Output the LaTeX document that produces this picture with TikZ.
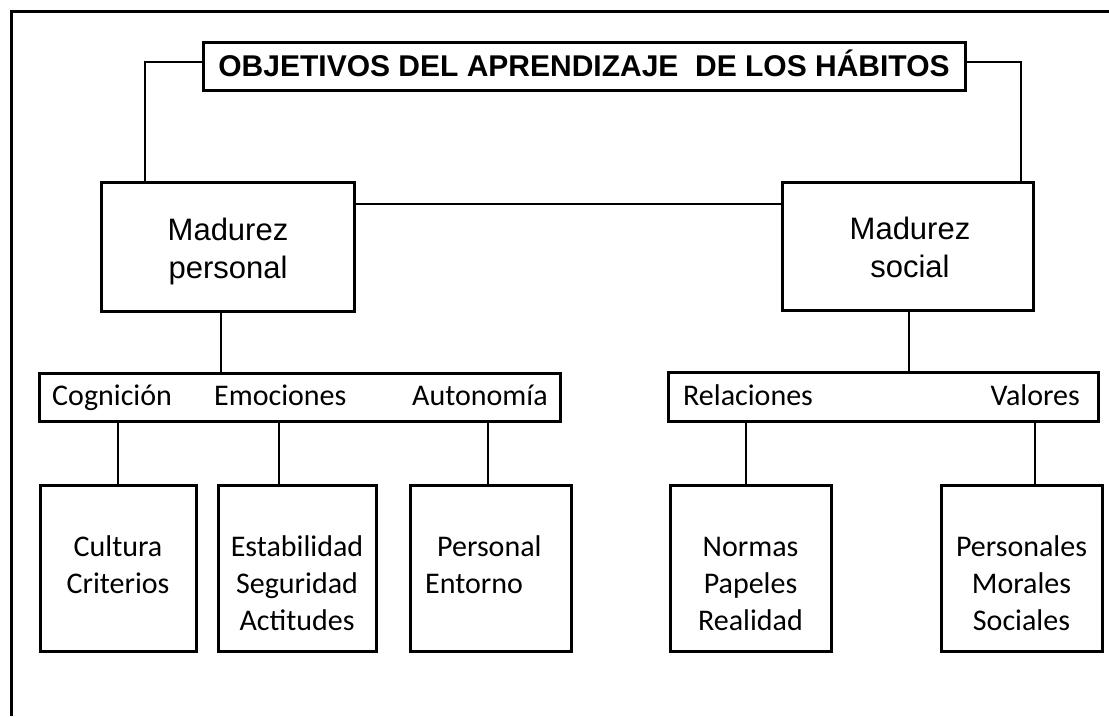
\documentclass[tikz,border=0pt]{standalone}
\usepackage{fontspec}
\setmainfont{Carlito}
\newfontfamily\arialfont{Liberation Sans}
\newcommand{\mylines}[1]{\begin{tabular}[t]{@{}c@{}}#1\end{tabular}}
\newcommand{\myleftlines}[1]{\begin{tabular}[t]{@{}l@{}}#1\end{tabular}}
\begin{document}
\begin{tikzpicture}[x=1pt,y=-1pt,
  box/.style={draw, line width=3pt, inner sep=0pt, fill=white, line join=miter},
  conn/.style={line width=1.4pt},
  lowbox/.style={box, minimum height=166pt},
  titlefont/.style={font=\arialfont\bfseries\fontsize{30}{36}\selectfont},
  madfont/.style={font=\arialfont\fontsize{31}{38}\selectfont, inner sep=0pt},
  calfont/.style={font=\fontsize{30}{37}\selectfont, inner sep=0pt}]
\useasboundingbox (0,0) rectangle (1109,716);
% outer frame (partly cropped)
\draw[line width=3pt, line join=miter] (11,716) -- (11,11) -- (1109,11);

% title
\node[box, titlefont, minimum width=762pt, minimum height=48pt,
      text height=21.5pt, text depth=0pt] (title) at (584,66)
  {OBJETIVOS DEL APRENDIZAJE\ \ DE LOS HÁBITOS};

% second level
\node[box, minimum width=253pt, minimum height=129pt] (mp) at (227.5,246.5) {};
\node[madfont, anchor=base] (mpt) at (228,240) {\mylines{Madurez\\personal}};
\node[box, minimum width=251pt, minimum height=128pt] (ms) at (907.5,246) {};
\node[madfont, anchor=base] (mst) at (910,239) {\mylines{Madurez\\social}};

\coordinate (xl) at (145,0);
\coordinate (xr) at (1021,0);
\coordinate (yc) at (0,62);
\draw[conn] (title.west |- yc) -| (mp.north -| xl);
\draw[conn] (title.east |- yc) -| (ms.north -| xr);
\coordinate (ym) at (0,204);
\draw[conn] (mp.east |- ym) -- (ms.west |- ym);

% category bars
\node[box, minimum width=521pt, minimum height=48pt] (barl) at (299.5,397) {};
\node[box, minimum width=430pt, minimum height=49pt] (barr) at (883,396.5) {};
\node[calfont, anchor=base west] (cog) at (52,405) {Cognición};
\node[calfont, anchor=base west] (emo) at (214,405) {Emociones};
\node[calfont, anchor=base west] (aut) at (412,405) {Autonomía};
\node[calfont, anchor=base west] (rel) at (683,405) {Relaciones};
\node[calfont, anchor=base east] (val) at (1080,405) {Valores};

\coordinate (xmp) at (221,0);
\coordinate (xms) at (909,0);
\draw[conn] (mp.south -| xmp) -- (barl.north -| xmp);
\draw[conn] (ms.south -| xms) -- (barr.north -| xms);

% bottom boxes
\node[lowbox, minimum width=156pt] (cul) at (118,568) {};
\node[lowbox, minimum width=158pt] (est) at (297,568) {};
\node[lowbox, minimum width=161pt] (per) at (490.5,568) {};
\node[lowbox, minimum width=161pt] (nor) at (750.5,568) {};
\node[lowbox, minimum width=161pt] (pers) at (1021.5,568) {};

\node[calfont, anchor=base] (cult) at (118,556) {\mylines{Cultura\\Criterios}};
\node[calfont, anchor=base] (estt) at (297,556) {\mylines{Estabilidad\\Seguridad\\Actitudes}};
\node[calfont, anchor=base west] (pert) at (425,556) {\myleftlines{\hspace{12pt}Personal\\Entorno}};
\node[calfont, anchor=base] (nort) at (750.5,556) {\mylines{Normas\\Papeles\\Realidad}};
\node[calfont, anchor=base] (perst) at (1021.5,556) {\mylines{Personales\\Morales\\Sociales}};

\coordinate (x1) at (118,0);
\coordinate (x2) at (279,0);
\coordinate (x3) at (488,0);
\coordinate (x4) at (746,0);
\coordinate (x5) at (1035,0);
\draw[conn] (barl.south -| x1) -- (cul.north -| x1);
\draw[conn] (barl.south -| x2) -- (est.north -| x2);
\draw[conn] (barl.south -| x3) -- (per.north -| x3);
\draw[conn] (barr.south -| x4) -- (nor.north -| x4);
\draw[conn] (barr.south -| x5) -- (pers.north -| x5);
\end{tikzpicture}
\end{document}
